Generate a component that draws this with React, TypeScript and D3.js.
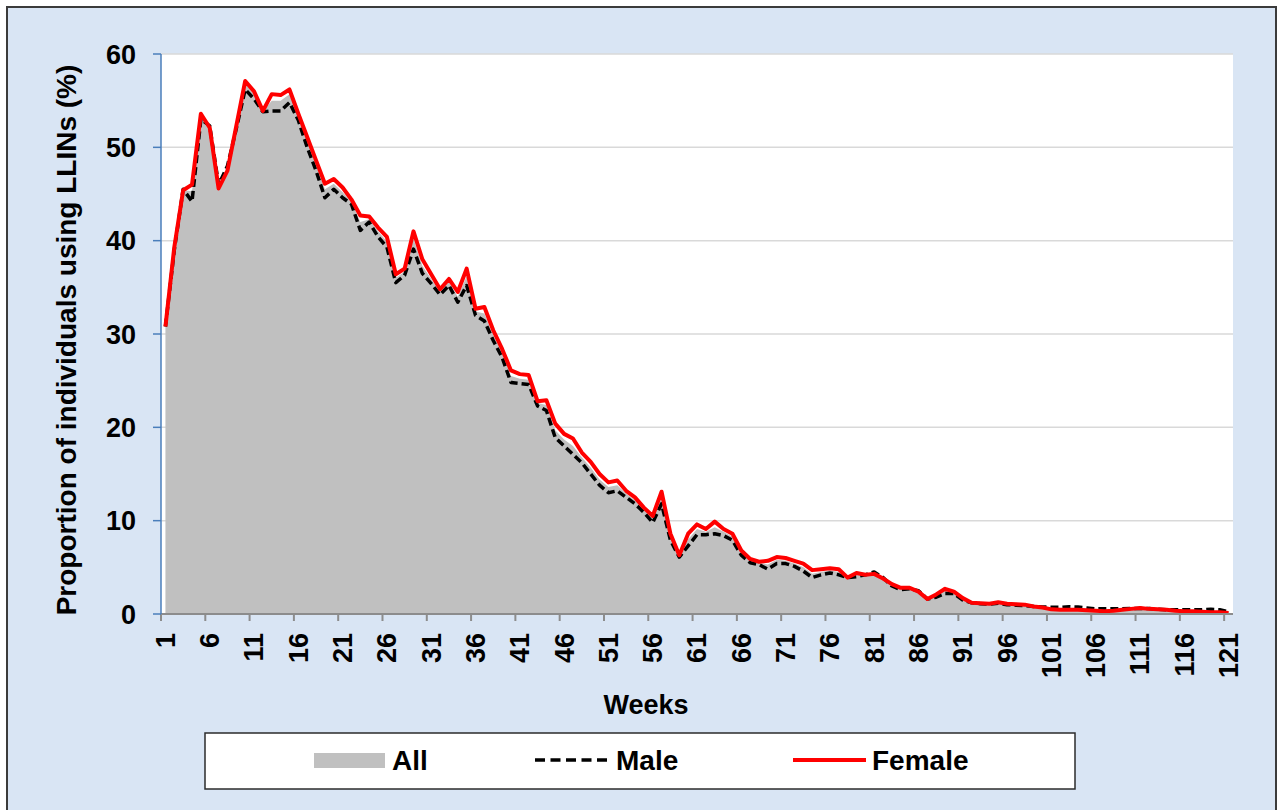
import * as d3 from "d3";
import React from "react";

// weekly proportion of individuals using LLINs (%)
const weeks = d3.range(1, 122);

const femaleValues = [
  30.8, 39.3, 45.4, 46.0, 53.6, 52.1, 45.6, 47.5, 52.3, 57.1,
  56.0, 53.9, 55.7, 55.6, 56.2, 53.6, 51.1, 48.6, 46.1, 46.6,
  45.7, 44.4, 42.7, 42.6, 41.4, 40.4, 36.4, 37.0, 41.0, 38.0,
  36.4, 34.8, 35.9, 34.5, 37.0, 32.7, 32.9, 30.4, 28.4, 26.1,
  25.7, 25.6, 22.8, 22.9, 20.4, 19.3, 18.8, 17.3, 16.3, 15.0,
  14.1, 14.3, 13.2, 12.5, 11.4, 10.5, 13.1, 8.6, 6.3, 8.6,
  9.6, 9.1, 9.9, 9.1, 8.6, 6.8, 5.9, 5.6, 5.7, 6.1,
  6.0, 5.7, 5.4, 4.7, 4.8, 4.9, 4.8, 3.9, 4.4, 4.2,
  4.3, 3.8, 3.2, 2.8, 2.8, 2.4, 1.6, 2.1, 2.7, 2.4,
  1.7, 1.2, 1.15, 1.1, 1.25, 1.1, 1.05, 1.0, 0.8, 0.7,
  0.5, 0.45, 0.45, 0.45, 0.4, 0.35, 0.3, 0.35, 0.45, 0.55,
  0.65, 0.55, 0.5, 0.45, 0.35, 0.3, 0.3, 0.25, 0.2, 0.2,
  0.1,
];

const maleValues = [
  30.8, 39.0, 45.5, 44.2, 53.0, 52.3, 46.0, 48.0, 52.0, 56.2,
  55.2, 53.8, 53.9, 53.9, 54.8, 52.9, 50.0, 47.5, 44.6, 45.5,
  44.6, 43.9, 41.1, 42.0, 40.4, 39.3, 35.5, 36.3, 39.1, 36.5,
  35.4, 34.2, 35.2, 33.4, 35.2, 32.0, 31.4, 29.3, 27.5, 24.8,
  24.7, 24.6, 22.3, 21.8, 18.9, 18.0, 17.1, 16.2, 15.0, 13.8,
  13.0, 13.2, 12.5, 11.8, 10.9, 9.8, 11.8, 7.9, 6.1, 7.3,
  8.5, 8.5, 8.6, 8.4, 7.9, 6.3, 5.5, 5.3, 4.8, 5.4,
  5.4, 5.1, 4.6, 3.9, 4.2, 4.4, 4.2, 3.9, 4.0, 4.2,
  4.5, 3.9, 3.0, 2.6, 2.7, 2.5, 1.6, 1.8, 2.2, 2.2,
  1.5, 1.2, 1.1, 1.05, 1.15, 1.0, 0.95, 0.9, 0.8, 0.75,
  0.72, 0.72, 0.78, 0.75, 0.65, 0.55, 0.55, 0.55, 0.55, 0.6,
  0.6, 0.6, 0.5, 0.45, 0.45, 0.45, 0.45, 0.45, 0.5, 0.45,
  0.25,
];

const allValues = [
  30.8, 39.2, 45.4, 45.3, 53.4, 52.2, 45.8, 47.7, 52.2, 56.8,
  55.7, 53.9, 55.0, 55.0, 55.7, 53.3, 50.7, 48.1, 45.5, 46.1,
  45.2, 44.2, 42.0, 42.3, 41.0, 39.9, 36.0, 36.7, 40.2, 37.3,
  35.9, 34.5, 35.6, 34.0, 36.2, 32.4, 32.2, 29.9, 28.0, 25.5,
  25.2, 25.1, 22.6, 22.4, 19.7, 18.7, 18.0, 16.8, 15.7, 14.4,
  13.6, 13.8, 12.9, 12.2, 11.2, 10.2, 12.5, 8.3, 6.2, 8.0,
  9.1, 8.8, 9.3, 8.8, 8.3, 6.6, 5.7, 5.5, 5.3, 5.8,
  5.7, 5.4, 5.0, 4.3, 4.5, 4.7, 4.5, 3.9, 4.2, 4.2,
  4.4, 3.8, 3.1, 2.7, 2.75, 2.45, 1.6, 2.0, 2.5, 2.3,
  1.6, 1.2, 1.12, 1.08, 1.2, 1.05, 1.0, 0.95, 0.8, 0.72,
  0.6, 0.58, 0.6, 0.6, 0.52, 0.45, 0.42, 0.45, 0.5, 0.58,
  0.62, 0.58, 0.5, 0.45, 0.4, 0.38, 0.38, 0.35, 0.35, 0.32,
  0.18,
];

const yTicks = [0, 10, 20, 30, 40, 50, 60];
const xTickWeeks = [1, 6, 11, 16, 21, 26, 31, 36, 41, 46, 51, 56, 61, 66, 71, 76, 81, 86, 91, 96, 101, 106, 111, 116, 121];

const FONT = "'Liberation Sans', Arial, sans-serif";

const App = () => {
  const left = 161;
  const right = 1233;
  const top = 54;
  const bottom = 614;

  const x = d3.scaleBand<number>().domain(weeks).range([left, right]).padding(0);
  const cx = (w: number) => (x(w) as number) + x.bandwidth() / 2;
  const y = d3.scaleLinear().domain([0, 60]).range([bottom, top]);

  const area = d3
    .area<number>()
    .x((_, i) => cx(weeks[i]))
    .y0(y(0))
    .y1((d) => y(d));

  const line = d3
    .line<number>()
    .x((_, i) => cx(weeks[i]))
    .y((d) => y(d));

  return (
    <svg width={1283} height={810} style={{ position: "absolute", left: 0, top: 0 }}>
      {/* outer frame */}
      <rect x={7} y={7} width={1269} height={812} fill="#d9e5f4" stroke="#3b3b3b" strokeWidth={2} />

      {/* plot area */}
      <rect x={left} y={top} width={right - left} height={bottom - top} fill="#ffffff" />

      {/* gridlines */}
      {yTicks.filter((t) => t > 0).map((t) => (
        <line key={t} x1={left} x2={right} y1={y(t)} y2={y(t)} stroke="#d9d9d9" strokeWidth={1.5} />
      ))}

      {/* All (area) */}
      <path d={area(allValues) || ""} fill="#c0c0c0" />

      {/* Male */}
      <path d={line(maleValues) || ""} fill="none" stroke="#000000" strokeWidth={3.5} strokeDasharray="8 4" strokeLinejoin="round" />

      {/* Female */}
      <path d={line(femaleValues) || ""} fill="none" stroke="#ff0000" strokeWidth={4} strokeLinejoin="round" />

      {/* x axis */}
      <line x1={left} x2={right} y1={bottom} y2={bottom} stroke="#8c8c8c" strokeWidth={2} />
      {xTickWeeks.map((w) => (
        <g key={w}>
          <line x1={x(w)} x2={x(w)} y1={bottom} y2={bottom + 7} stroke="#8c8c8c" strokeWidth={2} />
          <text
            transform={`translate(${cx(w)},${bottom + 19}) rotate(-90)`}
            textAnchor="end"
            dy="0.35em"
            fontFamily={FONT}
            fontWeight="bold"
            fontSize={27}
            fill="#000"
          >
            {w}
          </text>
        </g>
      ))}

      {/* y axis */}
      <line x1={left} x2={left} y1={top} y2={bottom} stroke="#4a7ebb" strokeWidth={1.5} />
      {yTicks.map((t) => (
        <g key={t}>
          <line x1={left - 8} x2={left} y1={y(t)} y2={y(t)} stroke="#4a7ebb" strokeWidth={1.5} />
          <text x={136} y={y(t)} dy="0.36em" textAnchor="end" fontFamily={FONT} fontWeight="bold" fontSize={27} fill="#000">
            {t}
          </text>
        </g>
      ))}

      {/* axis titles */}
      <text x={646} y={714} textAnchor="middle" fontFamily={FONT} fontWeight="bold" fontSize={27} fill="#000">
        Weeks
      </text>
      <text
        transform={`translate(76,${(top + bottom) / 2 + 6}) rotate(-90)`}
        textAnchor="middle"
        fontFamily={FONT}
        fontWeight="bold"
        fontSize={28}
        fill="#000"
      >
        Proportion of individuals using LLINs (%)
      </text>

      {/* legend */}
      <rect x={205} y={733} width={870} height={56} fill="#ffffff" stroke="#2b2b2b" strokeWidth={1.5} />
      <rect x={314} y={753} width={71} height={15} fill="#c0c0c0" />
      <text x={392} y={770} fontFamily={FONT} fontWeight="bold" fontSize={28} fill="#000">All</text>
      <line x1={535} x2={609} y1={760} y2={760} stroke="#000" strokeWidth={3.5} strokeDasharray="10 5.5" />
      <text x={616} y={770} fontFamily={FONT} fontWeight="bold" fontSize={28} fill="#000">Male</text>
      <line x1={793} x2={866} y1={760} y2={760} stroke="#ff0000" strokeWidth={4} />
      <text x={872} y={770} fontFamily={FONT} fontWeight="bold" fontSize={28} fill="#000">Female</text>
    </svg>
  );
};

export default App;
